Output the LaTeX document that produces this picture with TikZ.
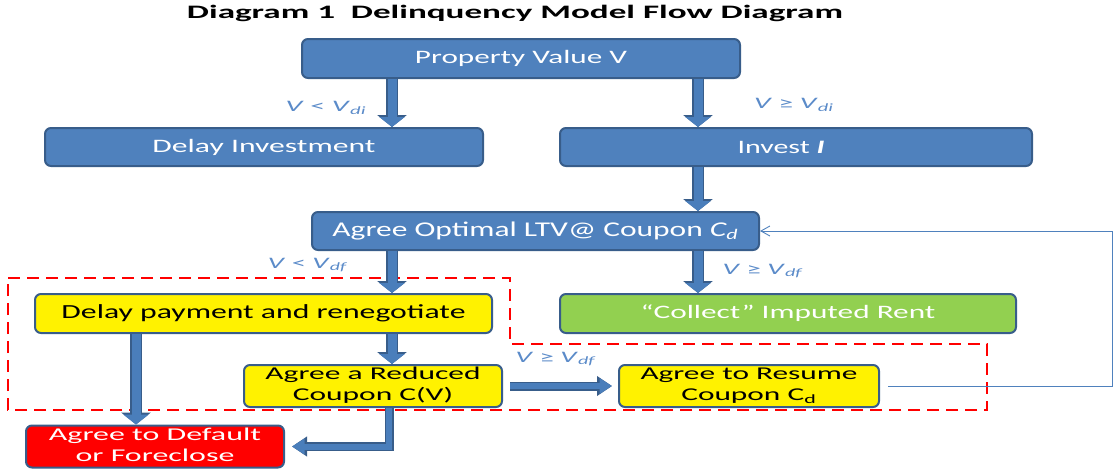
\documentclass[tikz,border=0pt]{standalone}
\usepackage{fontspec}
\setmainfont{Carlito}
\usepackage{graphicx}
\usetikzlibrary{arrows.meta}
\definecolor{boxblue}{HTML}{4F81BD}
\definecolor{boxedge}{HTML}{385D8A}
\definecolor{arrblue}{HTML}{4A7EBB}
\definecolor{lblblue}{HTML}{5B8BC9}
\definecolor{ygreen}{HTML}{92D050}
\newcommand\fitw[2]{\resizebox{#1}{\height}{#2}}
\newcommand\twol[2]{\renewcommand\arraystretch{1}\begin{tabular}{@{}c@{}}#1\\#2\end{tabular}}
\begin{document}
\begin{tikzpicture}[x=1pt,y=-1pt,
  box/.style={draw=boxedge, line width=2pt, rounded corners=6pt, inner sep=0pt, font=\fontsize{19}{21}\selectfont},
  bluebox/.style={box, fill=boxblue, text=white},
  yellowbox/.style={box, fill=yellow, text=black},
  greenbox/.style={box, fill=ygreen, text=white},
  redbox/.style={box, fill=red, text=white},
  lbl/.style={text=lblblue, inner sep=0pt, font=\fontsize{16}{18}\selectfont},
  bigarrow/.style={preaction={draw=boxedge, line width=12pt, -{Triangle[width=29pt,length=12pt]}},
    draw=arrblue, line width=9pt, -{Triangle[width=25pt,length=10pt]}},
  smallarrow/.style={preaction={draw=boxedge, line width=9pt, -{Triangle[width=19pt,length=15pt]}},
    draw=arrblue, line width=6pt, -{Triangle[width=15pt,length=12.5pt]}},
  fbline/.style={draw=boxblue, line width=0.9pt, -{Straight Barb[length=9pt,width=10pt]}},
  zone/.style={draw=red, line width=2.5pt, dash pattern=on 12pt off 7pt}
]
\useasboundingbox (0,0) rectangle (1115,472);

% title
\node[inner sep=0pt, font=\fontsize{19}{21}\selectfont\bfseries] (title) at (515,13)
  {\fitw{656pt}{Diagram 1\ \ Delinquency Model Flow Diagram}};

% boxes
\node[bluebox, minimum width=438pt, minimum height=39pt] (pv) at (521,58.5)
  {\fitw{212pt}{Property Value V}};
\node[bluebox, minimum width=438pt, minimum height=38pt] (di) at (264,147)
  {\fitw{223pt}{Delay Investment}};
\node[bluebox, minimum width=472pt, minimum height=38pt] (inv) at (796,147)
  {\hspace*{-30pt}\fitw{87pt}{Invest \textit{\textbf{I}}}};
\node[bluebox, minimum width=447pt, minimum height=38pt, font=\fontsize{21}{23}\selectfont] (agr) at (535.5,231)
  {\fitw{406pt}{Agree Optimal LTV@ Coupon \textit{C\textsubscript{d}}}};
\node[yellowbox, minimum width=457pt, minimum height=39pt, font=\fontsize{20}{22}\selectfont] (dp) at (263.5,313.5)
  {\fitw{404pt}{Delay payment and renegotiate}};
\node[greenbox, minimum width=456pt, minimum height=39pt] (col) at (788,313.5)
  {\fitw{295pt}{“Collect” Imputed Rent}};
\node[yellowbox, minimum width=258pt, minimum height=38pt, font=\fontsize{18}{21}\selectfont] (rc) at (373,386)
  {\fitw{215pt}{\twol{Agree a Reduced}{Coupon C(V)}}};
\node[yellowbox, minimum width=260pt, minimum height=38pt, font=\fontsize{18}{21}\selectfont] (res) at (749,386)
  {\fitw{217pt}{\twol{Agree to Resume}{Coupon C\textsubscript{d}}}};
\node[redbox, minimum width=258pt, minimum height=39pt, font=\fontsize{18}{21}\selectfont] (def) at (155,446.5)
  {\fitw{212pt}{\twol{Agree to Default}{or Foreclose}}};

% column coordinates
\coordinate (xl) at (392,0);
\coordinate (xr) at (698,0);
\coordinate (xd) at (136,0);
\coordinate (xe) at (389,0);
\coordinate (xf) at (1112,0);

% labels
\node[lbl] (l1) at (326,108) {\fitw{81pt}{\textit{V} < \textit{V}\textsubscript{\textit{di}}}};
\node[lbl] (l2) at (794,105) {\fitw{80pt}{\textit{V} ≥ \textit{V}\textsubscript{\textit{di}}}};
\node[lbl] (l3) at (308,265) {\fitw{80pt}{\textit{V} < \textit{V}\textsubscript{\textit{df}}}};
\node[lbl] (l4) at (763,271) {\fitw{81pt}{\textit{V} ≥ \textit{V}\textsubscript{\textit{df}}}};
\node[lbl] (l5) at (556,359) {\fitw{81pt}{\textit{V} ≥ \textit{V}\textsubscript{\textit{df}}}};

% dashed zone
\draw[zone] (8,278) -- (510,278) -- (510,344) -- (987,344) -- (987,410) -- (8,410) -- cycle;

% connectors
\draw[bigarrow] (pv.south -| xl) -- (di.north -| xl);
\draw[bigarrow] (pv.south -| xr) -- (inv.north -| xr);
\draw[bigarrow] (inv.south -| xr) -- (agr.north -| xr);
\draw[bigarrow] (agr.south -| xl) -- (dp.north -| xl);
\draw[bigarrow] (agr.south -| xr) -- (col.north -| xr);
\draw[bigarrow] (dp.south -| xl) -- (rc.north -| xl);
\draw[bigarrow] (dp.south -| xd) -- (def.north -| xd);
\draw[smallarrow, shorten <=7pt, shorten >=6pt] (rc.east) -- (res.west);
\draw[smallarrow, shorten >=7pt] (rc.south -| xe) |- (def.east);
\draw[fbline, shorten <=8pt] (res.east) -- (res.east -| xf) |- (agr.east);
\end{tikzpicture}
\end{document}
